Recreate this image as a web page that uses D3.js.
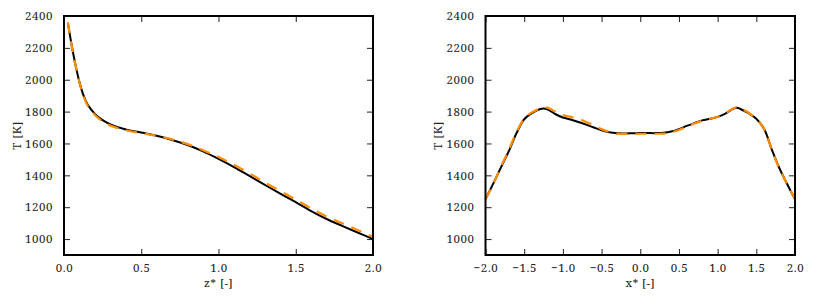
<!DOCTYPE html>
<html>
<head>
<meta charset="utf-8">
<script src="https://cdn.jsdelivr.net/npm/d3@7"></script>
<style>
  body { margin: 0; background: #fff; }
  text { font-family: "Noto Serif", serif; fill: #222; }
</style>
</head>
<body>
<div class="plot"></div>
<script>
// axial profile
const zLeft = [0.025,0.05,0.075,0.1,0.125,0.15,0.2,0.25,0.3,0.4,0.5,0.6,0.7,0.8,0.9,1.0,1.1,1.2,1.3,1.4,1.5,1.6,1.7,1.8,1.9,2.0];
const tLeftSim = [2357,2215,2090,1985,1905,1850,1786,1746,1720,1688,1669,1648,1622,1590,1550,1503,1452,1396,1340,1285,1232,1176,1126,1083,1041,1000];
const tLeftModel = [2360,2212,2088,1983,1900,1842,1778,1738,1712,1683,1665,1648,1626,1596,1558,1515,1466,1412,1356,1301,1248,1192,1142,1099,1057,1013];

// radial profile
const xRight = [-2,-1.9,-1.8,-1.7,-1.6,-1.5,-1.4,-1.3,-1.25,-1.2,-1.1,-1.0,-0.9,-0.8,-0.7,-0.6,-0.5,-0.4,-0.3,-0.2,-0.1,0,0.1,0.2,0.3,0.4,0.5,0.6,0.7,0.8,0.9,1.0,1.1,1.2,1.25,1.3,1.4,1.5,1.6,1.7,1.8,1.9,2.0];
const tRightSim = [1250,1348,1450,1550,1664,1752,1790,1815,1820,1814,1785,1763,1750,1735,1718,1700,1683,1670,1664,1663,1664,1665,1665,1665,1667,1675,1690,1710,1728,1745,1755,1767,1787,1818,1824,1815,1790,1755,1692,1562,1443,1344,1250];
const tRightModel = [1250,1345,1455,1558,1670,1755,1795,1818,1824,1825,1800,1778,1767,1755,1735,1715,1690,1672,1662,1660,1660,1661,1661,1661,1662,1670,1685,1705,1725,1742,1755,1768,1790,1820,1826,1818,1793,1755,1692,1562,1440,1345,1250];

const yTicks = [1000,1200,1400,1600,1800,2000,2200,2400];
const xTicksLeft = [0,0.5,1,1.5,2];
const xTicksRight = [-2,-1.5,-1,-0.5,0,0.5,1,1.5,2];

const width = 814;
const height = 301;
const svg = d3.select('.plot')
  .append('svg')
  .attr('width', width)
  .attr('height', height);

function panel(left, right, xDomain, xTicks, xs, sim, model, xLabel, yLabelX) {
  const top = 16, bottom = 255;
  const x = d3.scaleLinear().domain(xDomain).range([left, right]);
  const y = d3.scaleLinear().domain([900, 2400]).range([bottom, top]);
  const fmt = d3.format('.1f');
  const fmtX = d => fmt(d).replace('-', '\u2212');

  const g = svg.append('g');

  // axes with inward ticks
  g.append('g').attr('transform', `translate(0,${bottom})`)
    .call(d3.axisBottom(x).tickValues(xTicks).tickSizeInner(-6).tickSizeOuter(0).tickPadding(9).tickFormat(fmtX));
  g.append('g').attr('transform', `translate(0,${top})`)
    .call(d3.axisTop(x).tickValues(xTicks).tickSizeInner(-6).tickSizeOuter(0).tickFormat(''));
  g.append('g').attr('transform', `translate(${left},0)`)
    .call(d3.axisLeft(y).tickValues(yTicks).tickSizeInner(-6).tickSizeOuter(0).tickPadding(11).tickFormat(d3.format('d')));
  g.append('g').attr('transform', `translate(${right},0)`)
    .call(d3.axisRight(y).tickValues(yTicks).tickSizeInner(-6).tickSizeOuter(0).tickFormat(''));

  g.selectAll('.domain').remove();
  g.selectAll('.tick line').attr('stroke', '#222').attr('stroke-width', 1);
  g.selectAll('.tick text')
    .attr('font-size', 11.5)
    .attr('letter-spacing', 0.6)
    .attr('font-family', '"Noto Serif", serif')
    .attr('fill', '#222');

  const line = d3.line().curve(d3.curveCatmullRom.alpha(0.5))
    .x((d, i) => x(xs[i])).y(d => y(d));

  g.append('path').datum(sim)
    .attr('d', line).attr('fill', 'none')
    .attr('stroke', 'black').attr('stroke-width', 2);
  g.append('path').datum(model)
    .attr('d', line).attr('fill', 'none')
    .attr('stroke', '#ff8c00').attr('stroke-width', 2.2)
    .attr('stroke-dasharray', '11,8');

  g.append('rect')
    .attr('x', left).attr('y', top)
    .attr('width', right - left).attr('height', bottom - top)
    .attr('fill', 'none').attr('stroke', 'black').attr('stroke-width', 2);

  g.append('text')
    .attr('x', (left + right) / 2).attr('y', 287)
    .attr('text-anchor', 'middle').attr('font-size', 11.5)
    .attr('letter-spacing', 0.4)
    .text(xLabel);
  g.append('text')
    .attr('transform', `translate(${yLabelX},${(top + bottom) / 2}) rotate(-90)`)
    .attr('text-anchor', 'middle').attr('font-size', 11.5)
    .attr('letter-spacing', 0.4)
    .text('T [K]');
}

panel(64, 373, [0, 2], xTicksLeft, zLeft, tLeftSim, tLeftModel, 'z* [-]', 21);
panel(485.5, 795, [-2, 2], xTicksRight, xRight, tRightSim, tRightModel, 'x* [-]', 442);
</script>
</body>
</html>
